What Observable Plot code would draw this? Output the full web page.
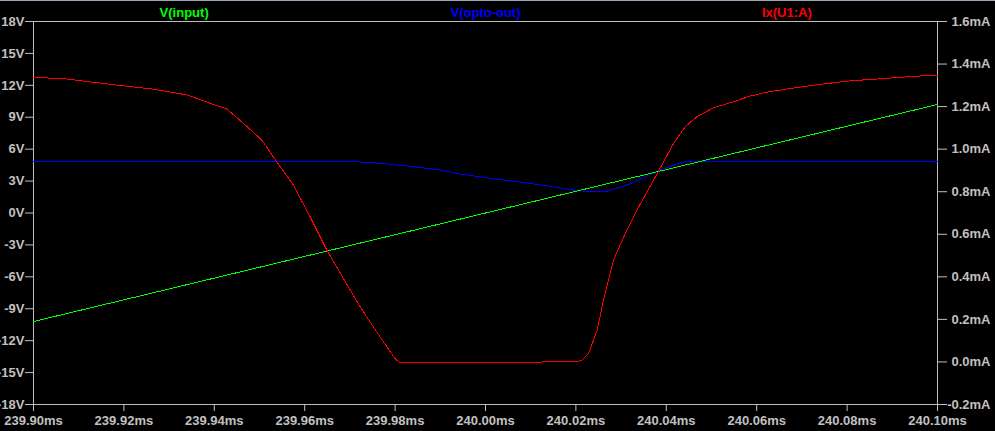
<!DOCTYPE html>
<html>
<head>
<meta charset="utf-8">
<script src="https://cdn.jsdelivr.net/npm/d3@7"></script>
<script src="https://cdn.jsdelivr.net/npm/@observablehq/plot@0.6"></script>
<style>
  html, body { margin: 0; padding: 0; background: #000; overflow: hidden; }
  #wrap { position: relative; width: 995px; height: 431px; }
  #topedge { position: absolute; left: 0; top: 0; width: 995px; height: 1px; background: #9aa6ba; }
</style>
</head>
<body>
<div id="wrap"><div id="topedge"></div></div>
<script>
// ---- data ----
const seriesNames = ["V(input)", "V(opto-out)", "Ix(U1:A)"];
const seriesColors = ["#00ff00", "#0000ff", "#ff0000"];

// V(input), volts
const inputTime  = [239.900, 239.950, 240.000, 240.050, 240.100];
const inputVolts = [-10.2, -5.1, 0.0, 5.1, 10.2];

// V(opto-out), volts
const optoTime  = [239.900, 239.9696, 239.977, 239.9841, 239.990, 239.9929, 240.001, 240.0099, 240.0173, 240.0202, 240.0221, 240.0269, 240.0313, 240.0357, 240.0386, 240.0424, 240.0442, 240.046, 240.100];
const optoVolts = [4.86, 4.86, 4.67, 4.35, 4.04, 3.78, 3.25, 2.78, 2.31, 2.09, 2.05, 2.05, 2.62, 3.47, 4.04, 4.60, 4.84, 4.86, 4.86];

// Ix(U1:A), milliamps
const ledTime = [239.900, 239.9073, 239.9169, 239.9265, 239.9339, 239.9428, 239.9464, 239.9505, 239.9538, 239.9575, 239.9612, 239.9649, 239.9723, 239.9767, 239.9782, 239.9800, 239.9811, 239.9948, 239.9949, 240.0199, 240.0213, 240.0228, 240.0247, 240.0261, 240.0283, 240.0306, 240.0335, 240.0380, 240.0416, 240.0442, 240.0468, 240.0505, 240.0549, 240.0586, 240.0623, 240.0674, 240.0733, 240.0807, 240.0881, 240.0955, 240.100];
const ledMilliamps = [1.338, 1.330, 1.305, 1.282, 1.255, 1.188, 1.122, 1.043, 0.941, 0.831, 0.682, 0.525, 0.258, 0.117, 0.070, 0.015, -0.004, -0.004, -0.001, 0.000, 0.007, 0.039, 0.149, 0.290, 0.478, 0.588, 0.713, 0.886, 1.027, 1.106, 1.153, 1.195, 1.223, 1.250, 1.268, 1.285, 1.303, 1.321, 1.332, 1.343, 1.348];

// axes
const timeTicks = [239.90, 239.92, 239.94, 239.96, 239.98, 240.00, 240.02, 240.04, 240.06, 240.08, 240.10];
const voltTicks = [18, 15, 12, 9, 6, 3, 0, -3, -6, -9, -12, -15, -18];
const mATicks   = [1.6, 1.4, 1.2, 1.0, 0.8, 0.6, 0.4, 0.2, 0.0, -0.2];

// ---- build ----
const timeDomain = [timeTicks[0], timeTicks[timeTicks.length - 1]];
const voltDomain = [d3.min(voltTicks), d3.max(voltTicks)];
const mADomain = [d3.min(mATicks), d3.max(mATicks)];
// map the right (mA) axis onto the left (V) axis
const mAtoV = d3.scaleLinear().domain(mADomain).range(voltDomain);

const inputData = inputTime.map((t, i) => ({t, v: inputVolts[i]}));
const optoData = optoTime.map((t, i) => ({t, v: optoVolts[i]}));
const ledData = ledTime.map((t, i) => ({t, v: mAtoV(ledMilliamps[i])}));
const legend = seriesNames.map((name, i) => ({
  name, color: seriesColors[i],
  t: timeDomain[0] + (i + 0.5) / seriesNames.length * (timeDomain[1] - timeDomain[0])
}));

const fmtT = d3.format(".2f");
const chart = Plot.plot({
  width: 995,
  height: 431,
  marginLeft: 33,
  marginRight: 58,
  marginTop: 21,
  marginBottom: 27,
  style: {
    background: "#000",
    color: "#c0c0c0",
    fontFamily: "'Liberation Sans', Arial, sans-serif",
    fontSize: "13px",
    fontWeight: "bold"
  },
  x: {domain: timeDomain},
  y: {domain: voltDomain},
  marks: [
    Plot.frame({stroke: "#bdbdbd"}),
    Plot.axisX(timeTicks, {anchor: "bottom", tickSize: 7, tickPadding: 4, tickFormat: d => fmtT(d) + "ms", label: null}),
    Plot.axisY(voltTicks, {anchor: "left", tickSize: 8, tickPadding: 1, tickFormat: d => d + "V", label: null}),
    Plot.axisY(mATicks.map(d => mAtoV(d)), {
      anchor: "right", tickSize: 9, tickPadding: 44, textAnchor: "end",
      tickFormat: d => (Math.round(mAtoV.invert(d) * 10) / 10 + 0).toFixed(1) + "mA", label: null
    }),
    Plot.line(optoData, {x: "t", y: "v", stroke: seriesColors[1], strokeWidth: 1, shapeRendering: "crispEdges"}),
    Plot.line(inputData, {x: "t", y: "v", stroke: seriesColors[0], strokeWidth: 1, shapeRendering: "crispEdges"}),
    Plot.line(ledData, {x: "t", y: "v", stroke: seriesColors[2], strokeWidth: 1, shapeRendering: "crispEdges"}),
    Plot.text(legend, {x: "t", text: "name", fill: "color", frameAnchor: "top", lineAnchor: "middle", dy: -9, fontSize: 13, fontWeight: "bold"})
  ]
});
document.getElementById("wrap").appendChild(chart);
</script>
</body>
</html>
